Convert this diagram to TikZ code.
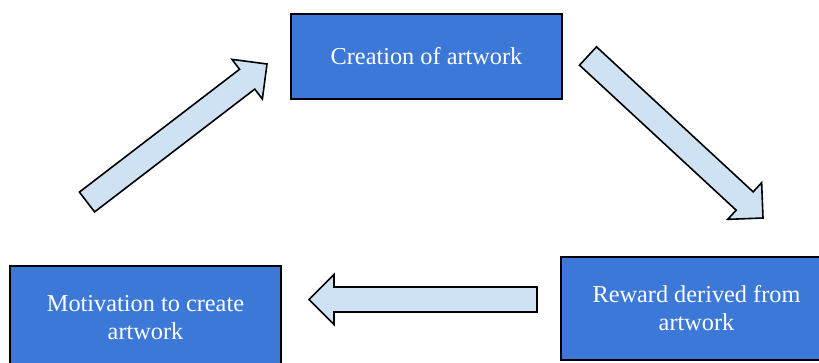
\documentclass[tikz,border=0pt]{standalone}
\usepackage{fontspec}
\setmainfont{Liberation Serif}
\usetikzlibrary{calc}

\definecolor{boxblue}{HTML}{3C78D8}
\definecolor{arrowblue}{HTML}{CFE2F3}

\tikzset{
  box/.style={draw=black, line width=1.6pt, fill=boxblue, text=white,
    minimum width=271pt, align=center, inner sep=0pt,
    font=\fontsize{24.3}{28}\selectfont},
  blockarrow/.style={draw=black, line width=1.6pt, fill=arrowblue, line join=miter}
}

% block arrow from #1 (tail) to #2 (tip)
\newcommand{\blockarrow}[2]{%
  \draw[blockarrow] ($(#1)!12.5pt!90:(#2)$)
    -- ($($(#2)!25pt!(#1)$)!12.5pt!90:(#2)$)
    -- ($($(#2)!25pt!(#1)$)!25pt!90:(#2)$)
    -- (#2)
    -- ($($(#2)!25pt!(#1)$)!25pt!-90:(#2)$)
    -- ($($(#2)!25pt!(#1)$)!12.5pt!-90:(#2)$)
    -- ($(#1)!12.5pt!-90:(#2)$) -- cycle;}

\begin{document}
\begin{tikzpicture}[x=1pt, y=-1pt]
\useasboundingbox (0,0) rectangle (819,362);
\clip (0,0) rectangle (819,362);

\node[box, minimum height=85pt] (creation) at (426.5,56.5) {Creation of artwork};
\node[box, minimum height=103pt] (reward) at (696.5,308.5) {Reward derived from\\artwork};
\node[box, minimum height=103pt] (motivation) at (145.5,317.5) {Motivation to create\\artwork};

\coordinate (upstart) at (87,202);
\coordinate (upend) at (267,64);
\coordinate (downstart) at (588,56);
\coordinate (downend) at (763,218);
\coordinate (backstart) at (537,299.5);
\coordinate (backend) at (309,299.5);

\blockarrow{upstart}{upend}
\blockarrow{downstart}{downend}
\blockarrow{backstart}{backend}
\end{tikzpicture}
\end{document}
